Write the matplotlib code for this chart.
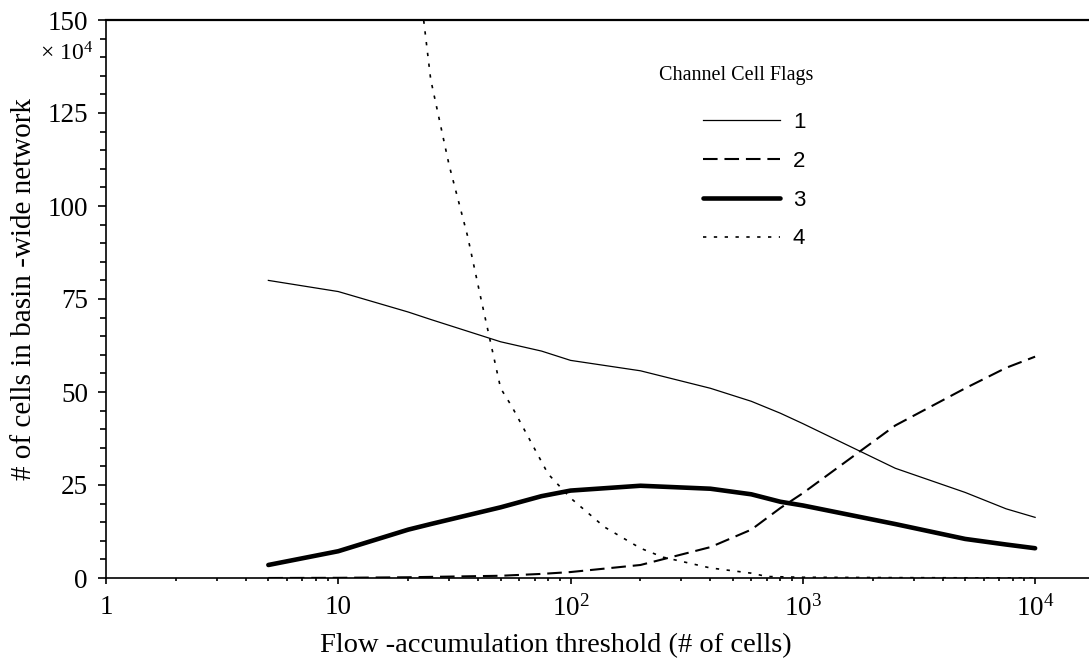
import numpy as np
import matplotlib as mpl
mpl.use('Agg')
import matplotlib.pyplot as plt
from matplotlib.ticker import FixedLocator, LogLocator, NullFormatter, MultipleLocator

plt.rcParams['font.family'] = 'Liberation Serif'
plt.rcParams['mathtext.fontset'] = 'custom'
plt.rcParams['mathtext.rm'] = 'Liberation Serif'
plt.rcParams['mathtext.it'] = 'Liberation Serif:italic'

# flow-accumulation thresholds (# of cells)
thresh = [5, 10, 20, 25, 50, 75, 100, 200, 400, 600, 800, 1000, 2500, 5000, 7500, 10000]

# basin-wide cell counts per channel cell flag (x 10^4)
flag1 = [80.0, 77.0, 71.5, 69.5, 63.5, 61.0, 58.5, 55.7, 51.0, 47.5, 44.3, 41.5, 29.5, 23.0, 18.6, 16.3]
flag2 = [0.0, 0.05, 0.2, 0.3, 0.6, 1.1, 1.6, 3.5, 8.3, 13.0, 18.8, 22.8, 41.0, 51.0, 56.5, 59.5]
flag3 = [3.5, 7.2, 13.0, 14.5, 19.0, 22.0, 23.5, 24.8, 24.0, 22.5, 20.5, 19.5, 14.5, 10.5, 9.0, 8.0]

thresh4 = [20, 25, 30, 36, 41, 50, 56, 80, 100, 140, 200, 250, 400, 600, 700, 1000, 2500, 5000, 10000]
flag4 = [185.0, 134.0, 111.0, 92.0, 75.5, 51.0, 46.0, 28.0, 21.5, 13.7, 8.0, 5.6, 2.7, 1.3, 0.4, 0.2, 0.1, 0.05, 0.0]

labels = ['1', '2', '3', '4']

fig = plt.figure(figsize=(10.89, 6.62), dpi=100)
ax = fig.add_axes([106 / 1089, 1 - 578 / 662, 983 / 1089, 558 / 662])

ax.plot(thresh, flag1, color='black', lw=0.9, label=labels[0])
ax.plot(thresh, flag2, color='black', lw=1.5, linestyle=(0, (7.0, 3.3)), label=labels[1])
ax.plot(thresh, flag3, color='black', lw=3.3, solid_capstyle='round', label=labels[2])
ax.plot(thresh4, flag4, color='black', lw=1.2, linestyle=(0, (2.0, 4.5)), label=labels[3])

ax.set_xscale('log')
ax.set_xlim(1, 10 ** 4.232)
ax.set_ylim(0, 150)

ax.xaxis.set_major_locator(FixedLocator([1, 10, 100, 1000, 10000]))
ax.set_xticklabels(['1', '10', '$10^2$', '$10^3$', '$10^4$'])
ax.xaxis.set_minor_locator(LogLocator(base=10, subs=np.arange(2, 10)))
ax.xaxis.set_minor_formatter(NullFormatter())
ax.yaxis.set_major_locator(MultipleLocator(25))
ax.yaxis.set_minor_locator(MultipleLocator(5))

ax.tick_params(axis='both', which='major', direction='out', labelsize=19.5, width=1.2)
ax.tick_params(axis='y', which='major', length=6, pad=7)
ax.tick_params(axis='y', which='minor', length=4, width=1.2)
ax.tick_params(axis='x', which='major', length=4, pad=8)
ax.tick_params(axis='x', which='minor', length=2.5, width=1.2)

ax.spines['right'].set_visible(False)
ax.spines['top'].set_linewidth(1.6)
ax.spines['left'].set_linewidth(1.2)
ax.spines['bottom'].set_linewidth(1.2)

ax.text(-0.013, 0.94, r'$\times$ 10$^4$', transform=ax.transAxes, ha='right', va='center', fontsize=17)

ax.set_ylabel('# of cells in basin -wide network', fontsize=21)
ax.yaxis.set_label_coords(-0.070, 0.518)
ax.set_xlabel('Flow -accumulation threshold (# of cells)', fontsize=20.5)
ax.xaxis.set_label_coords(0.458, -0.098)

ax.text(0.641, 0.901, 'Channel Cell Flags', transform=ax.transAxes, ha='center', va='center', fontsize=14.5)
leg = ax.legend(loc='upper left', bbox_to_anchor=(0.607, 0.835), frameon=False,
                prop={'family': 'Liberation Sans', 'size': 16}, handlelength=3.47,
                handletextpad=0.59, labelspacing=0.80, borderpad=0, borderaxespad=0)

plt.savefig('out.png', dpi=100)
